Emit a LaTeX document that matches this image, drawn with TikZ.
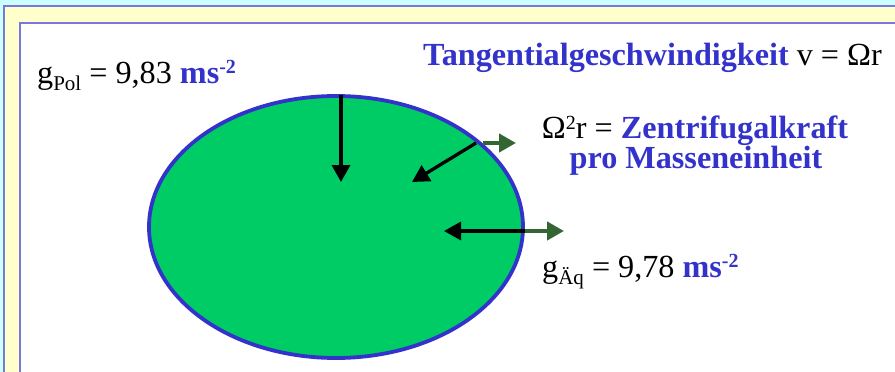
\documentclass[tikz,border=0pt]{standalone}
\usepackage{fontspec}
\setmainfont{Liberation Serif}
\usepackage{xcolor}
\usetikzlibrary{arrows.meta, shapes.geometric}

\definecolor{textblue}{HTML}{3333CC}
\definecolor{earthgreen}{HTML}{00CC66}
\definecolor{arrowgreen}{HTML}{336633}
\definecolor{framecyan}{HTML}{CCFFFF}
\definecolor{frameyellow}{HTML}{FFFFCC}
\definecolor{frameblue}{HTML}{7777DD}

\newcommand{\unitms}{\textcolor{textblue}{\bfseries ms\raisebox{0.28em}{\fontsize{20}{20}\selectfont -2}}}
\newcommand{\lowidx}[1]{\raisebox{-0.24em}{\fontsize{21}{21}\selectfont #1}}

\begin{document}
\begin{tikzpicture}[
  x=1pt, y=-1pt,
  label/.style={anchor=base west, inner sep=0pt, font=\fontsize{32.2}{36}\selectfont},
  bluetext/.style={label, text=textblue, font=\fontsize{32.2}{36}\selectfont\bfseries},
  gravity/.style={line width=3.3pt, -{Triangle[length=17pt, width=18pt]}},
  centrifugal/.style={arrowgreen, line width=4.5pt, -{Triangle[length=17pt, width=18pt]}},
  frameline/.style={draw=frameblue, line width=2pt}
]
  \useasboundingbox (0,0) rectangle (895,372);
  \clip (0,0) rectangle (895,372);

  %--- Frame ---
  \fill[framecyan] (0,0) rectangle (895,372);
  \filldraw[frameline, fill=frameyellow] (4,6) rectangle (920,400);
  \filldraw[frameline, fill=white] (20,23) rectangle (920,400);

  %--- Earth ---
  \node[ellipse, draw=textblue, line width=3.8pt, fill=earthgreen,
        minimum width=374pt, minimum height=262pt, inner sep=0pt] (earth) at (336,227) {};

  %--- Arrow end points ---
  \coordinate (pol)     at (341,95);
  \coordinate (poltip)  at (341,182);
  \coordinate (mid)     at (476,143);
  \coordinate (midtip)  at (412,182);
  \coordinate (midout)  at (483,143);
  \coordinate (midend)  at (516,143);
  \coordinate (aeq)     at (525,231);
  \coordinate (aeqtip)  at (444,231);
  \coordinate (aeqend)  at (564,231);

  \draw[gravity] (pol) -- (poltip);
  \draw[gravity] (mid) -- (midtip);
  \draw[gravity] (aeq) -- (aeqtip);
  \draw[centrifugal] (midout) -- (midend);
  \draw[centrifugal] (aeq) -- (aeqend);

  %--- Labels ---
  \node[label] (gpol) at (37,83) {g\lowidx{Pol} = 9,83 \unitms};
  \node[label] (tang) at (423,65)
    {\textcolor{textblue}{\bfseries Tangentialgeschwindigkeit} v = Ωr};
  \node[label, anchor=base] (zentr) at (695,138)
    {Ω\raisebox{0.27em}{\fontsize{20}{20}\selectfont 2}r = \textcolor{textblue}{\bfseries Zentrifugalkraft}};
  \node[bluetext, anchor=base] (masse) at (696,168) {pro Masseneinheit};
  \node[label] (gaeq) at (542,277) {g\lowidx{Äq} = 9,78 \unitms};
\end{tikzpicture}
\end{document}
